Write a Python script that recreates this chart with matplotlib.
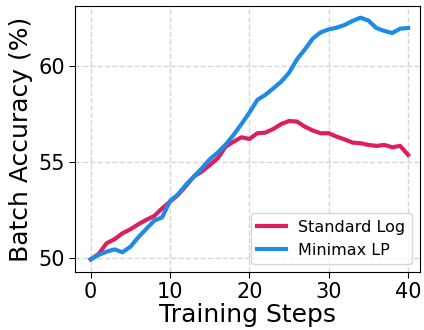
import matplotlib
matplotlib.use("Agg")
import matplotlib.pyplot as plt
import numpy as np

steps = list(range(41))
standard_log = [49.91, 50.19, 50.75, 50.96, 51.27, 51.48, 51.74, 51.97, 52.17, 52.57,
                52.92, 53.27, 53.74, 54.23, 54.49, 54.83, 55.18, 55.79, 56.05, 56.28,
                56.19, 56.49, 56.52, 56.71, 56.97, 57.13, 57.10, 56.83, 56.63, 56.49,
                56.49, 56.31, 56.17, 56.00, 55.97, 55.88, 55.83, 55.88, 55.76, 55.83,
                55.36]
minimax_lp = [49.91, 50.14, 50.31, 50.43, 50.28, 50.57, 51.06, 51.50, 51.93, 52.10,
              52.96, 53.30, 53.80, 54.23, 54.66, 55.13, 55.48, 55.90, 56.40, 56.97,
              57.57, 58.23, 58.49, 58.83, 59.18, 59.65, 60.35, 60.87, 61.44, 61.76,
              61.91, 62.00, 62.14, 62.35, 62.52, 62.37, 61.98, 61.83, 61.72, 61.95,
              61.98]
series_names = ["Standard Log", "Minimax LP"]
xticks = [0, 10, 20, 30, 40]
yticks = [50, 55, 60]

fig = plt.figure(figsize=(4.24, 3.30), dpi=100)
ax = fig.add_axes([75/424, 58/330, 345/424, 266/330])
ax.plot(steps, standard_log, color="#dc1f5e", lw=3.0, label=series_names[0])
ax.plot(steps, minimax_lp, color="#1f8be6", lw=3.0, label=series_names[1])
ax.set_xlim(-1.98, 41.5)
ax.set_ylim(49.25, 63.13)
ax.set_xticks(xticks)
ax.set_yticks(yticks)
ax.tick_params(labelsize=15, length=4, pad=3)
ax.grid(True, ls="--", color="#d6d6d6", lw=1.0)
ax.set_axisbelow(True)
ax.set_xlabel("Training Steps", fontsize=18, labelpad=1)
ax.set_ylabel("Batch Accuracy (%)", fontsize=18, labelpad=4)
ax.legend(loc="lower right", fontsize=11.5, handlelength=1.8, borderaxespad=0.5)
fig.savefig("out.png", dpi=100)
